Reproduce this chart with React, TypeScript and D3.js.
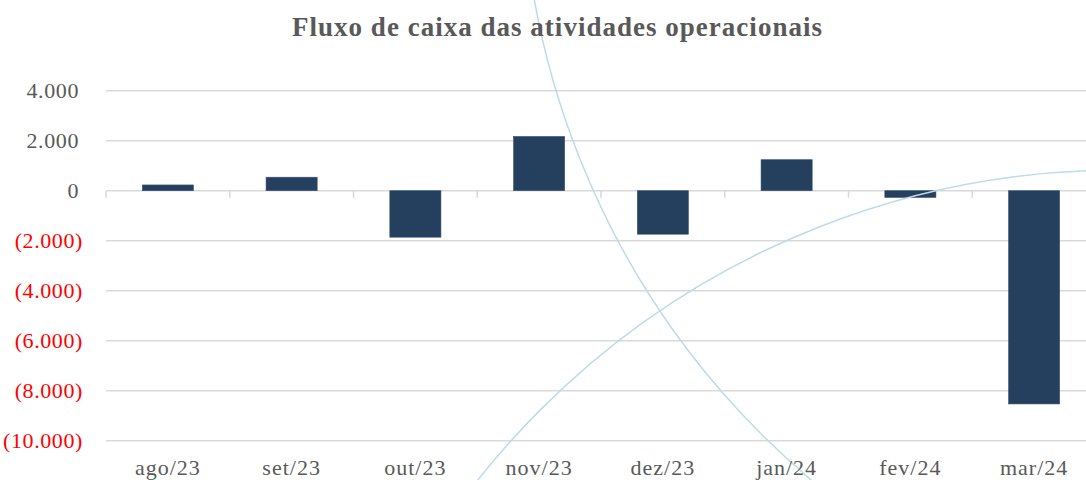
import React from "react";
import * as d3 from "d3";

const categories = ["ago/23", "set/23", "out/23", "nov/23", "dez/23", "jan/24", "fev/24", "mar/24"];
const values = [230, 540, -1860, 2170, -1740, 1240, -270, -8530];
const yTicks = [4000, 2000, 0, -2000, -4000, -6000, -8000, -10000];
const title = "Fluxo de caixa das atividades operacionais";

// decorative background circles (pixel geometry of the template decoration)
const decoCircles = [
  { cx: 1338.7, cy: -143.9, r: 817 },
  { cx: 1118.5, cy: 987.1, r: 817 },
];

const W = 1086;
const H = 480;
const FONT = "'Liberation Serif', 'Times New Roman', serif";

function fmt(v: number): string {
  const s = d3.format(",")(Math.abs(v)).replace(/,/g, ".");
  return v < 0 ? `(${s})` : s;
}

export default function App() {
  const x = d3.scaleBand<string>().domain(categories).range([106, 1096]).paddingInner(0.587).paddingOuter(0.2935);
  const y = d3.scaleLinear().domain([-10000, 4000]).range([440.7, 90.7]);
  const step = x.step();
  const y0 = y(0);

  return (
    <svg width={W} height={H} style={{ position: "absolute", left: 0, top: 0, background: "#fff" }} fontFamily={FONT}>
      <rect x={0} y={0} width={W} height={H} fill="#fff" />
      {/* gridlines */}
      {yTicks.map((t) => (
        <line key={t} x1={106} x2={W} y1={y(t)} y2={y(t)} stroke="#d9d9d9" strokeWidth={1.5} />
      ))}
      {/* category tick marks */}
      {d3.range(categories.length + 1).map((k) => (
        <line key={k} x1={106 + k * step} x2={106 + k * step} y1={y0} y2={y0 + 7} stroke="#d9d9d9" strokeWidth={1.5} />
      ))}
      {/* bars */}
      {categories.map((c, i) => {
        const v = values[i];
        const top = Math.min(y(v), y0);
        const h = Math.abs(y(v) - y0);
        return <rect key={c} x={x(c)} y={top} width={x.bandwidth()} height={h} fill="#253f5f" stroke="#3a5373" strokeWidth={0.6} />;
      })}
      {/* decorative arcs */}
      {decoCircles.map((d, i) => (
        <circle key={i} cx={d.cx} cy={d.cy} r={d.r} fill="none" stroke="#bcdbe8" strokeWidth={1.5} />
      ))}
      {/* y labels */}
      {yTicks.map((t) => (
        <text key={t} x={t < 0 ? 83 : 79} y={y(t)} dy="0.35em" textAnchor="end" fontSize={22} letterSpacing={0.6} fill={t < 0 ? "#ff0000" : "#595959"}>
          {fmt(t)}
        </text>
      ))}
      {/* x labels */}
      {categories.map((c) => (
        <text key={c} x={(x(c) as number) + x.bandwidth() / 2} y={475} textAnchor="middle" fontSize={22} letterSpacing={1} fill="#595959">
          {c}
        </text>
      ))}
      <text x={557} y={36} textAnchor="middle" fontSize={27} fontWeight="bold" fill="#595959" textLength={530} lengthAdjust="spacing">
        {title}
      </text>
    </svg>
  );
}
